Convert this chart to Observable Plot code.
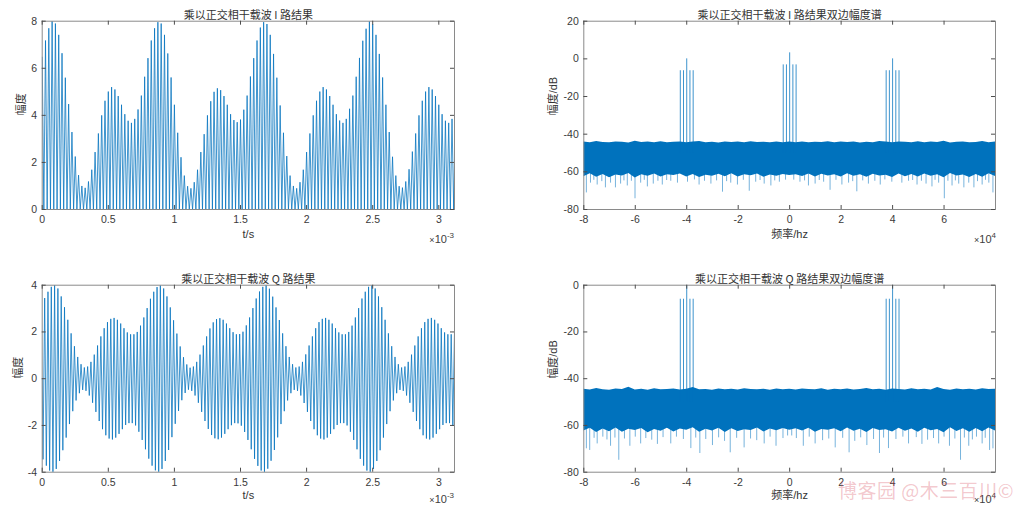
<!DOCTYPE html>
<html>
<head>
<meta charset="utf-8">
<script src="https://cdn.jsdelivr.net/npm/d3@7"></script>
<script src="https://cdn.jsdelivr.net/npm/@observablehq/plot@0.6"></script>
<style>
  html, body { margin: 0; padding: 0; background: #fff; }
  #wrap { position: relative; width: 1024px; height: 508px; overflow: hidden; background: #fff; }
  .panel { position: absolute; }
  .mult { position: absolute; width: 44px; text-align: right; font-family: "Liberation Sans", Arial, sans-serif; font-size: 11px; color: #404040; line-height: 12px; }
  .mult .x { font-size: 9px; }
  .mult sup { font-size: 8px; vertical-align: 5px; line-height: 0; }
  .wm { position: absolute; left: 838px; top: 476px; font-family: "Noto Sans CJK SC", sans-serif; font-size: 19px; color: rgba(214, 70, 86, 0.30); white-space: nowrap; letter-spacing: 0.5px; }
</style>
</head>
<body>
<div id="wrap"></div>
<script>
// ---------------- DATA ----------------
const fs = 160; // samples per millisecond (160 kHz)

// I branch: peak of every 25 µs spike (the valleys sit at 0)
const iPeaks = [
  6.47,7.18,7.7,8.0,7.9,7.42,6.64,5.6,4.48,3.29,
  2.25,1.46,1.0,0.92,1.19,1.69,2.44,3.23,4.0,4.62,
  5.01,5.2,5.1,4.82,4.45,4.05,3.77,3.68,3.85,4.25,
  4.84,5.64,6.43,7.18,7.7,7.96,7.9,7.42,6.63,5.61,
  4.45,3.26,2.22,1.44,0.99,0.9,1.16,1.69,2.44,3.2,
  4.0,4.6,5.0,5.15,5.07,4.82,4.45,4.05,3.8,3.71,
  3.82,4.24,4.84,5.65,6.43,7.18,7.73,7.96,7.88,7.42,
  6.61,5.6,4.42,3.26,2.27,1.44,1.0,0.9,1.16,1.69,
  2.44,3.23,4.0,4.62,5.01,5.2,5.1,4.82,4.45,4.05,
  3.78,3.68,3.85,4.28,4.84,5.64,6.44,7.17,7.68,7.99,
  7.88,7.42,6.61,5.61,4.45,3.29,2.24,1.44,0.99,0.93,
  1.19,1.71,2.46,3.23,4.0,4.62,5.01,5.2,5.1,4.82,
  4.45,4.05,3.77,3.68,3.85
];
const iEnd = 2.04; // last sample at the right edge

// Q branch: swing amplitude (±) of every 25 µs cycle
const qAmp = [
  3.45,3.72,3.93,4.0,3.86,3.52,3.06,2.52,1.94,1.39,0.93,0.62,0.48,0.52,0.72,1.03,
  1.42,1.81,2.16,2.42,2.56,2.6,2.52,2.36,2.16,1.98,1.9,1.9,2.0,2.27,2.62,3.02,
  3.42,3.72,3.92,3.99,3.86,3.52,3.05,2.5,1.93,1.38,0.92,0.61,0.47,0.52,0.72,1.03,
  1.42,1.81,2.15,2.41,2.55,2.59,2.52,2.36,2.16,1.99,1.9,1.91,2.01,2.28,2.62,3.02,
  3.43,3.73,3.93,4.0,3.85,3.51,3.05,2.51,1.94,1.39,0.93,0.62,0.48,0.52,0.72,1.04,
  1.42,1.81,2.16,2.42,2.56,2.6,2.52,2.36,2.16,1.98,1.9,1.9,2.0,2.27,2.62,3.02,
  3.43,3.72,3.93,4.0,3.86,3.52,3.06,2.52,1.94,1.39,0.93,0.62,0.48,0.52,0.72,1.03,
  1.42,1.81,2.16,2.42,2.56,2.6,2.52,2.36,2.16,1.98,1.9,1.9,2.02
];

// Spectra (frequency in kHz, level in dB)
const bandF = [
  -80,-77.5,-75,-72.5,-70,-67.5,-65,-62.5,-60,-57.5,-55,-52.5,-50,
  -47.5,-45,-42.5,-40,-37.5,-35,-32.5,-30,-27.5,-25,-22.5,-20,-17.5,
  -15,-12.5,-10,-7.5,-5,-2.5,0,2.5,5,7.5,10,12.5,15,
  17.5,20,22.5,25,27.5,30,32.5,35,37.5,40,42.5,45,47.5,
  50,52.5,55,57.5,60,62.5,65,67.5,70,72.5,75,77.5,80
];
const iBandTop = [
  -44.2,-44.5,-43.9,-44.4,-44.6,-44.1,-44.3,-44.7,-43.8,-44.4,-44.2,-44.6,-44.0,
  -44.5,-44.3,-44.1,-44.6,-44.2,-43.9,-44.5,-44.3,-44.7,-44.1,-44.4,-44.2,-44.6,
  -44.0,-44.4,-44.3,-44.5,-44.1,-44.6,-44.2,-44.6,-44.1,-44.5,-44.3,-44.4,-44.0,
  -44.6,-44.2,-44.4,-44.1,-44.7,-44.3,-44.5,-43.9,-44.2,-44.6,-44.1,-44.3,-44.5,
  -44.0,-44.6,-44.2,-44.4,-43.8,-44.7,-44.3,-44.1,-44.6,-44.4,-43.9,-44.5,-44.2
];
const iBandLow = [
  -62.6,-61.0,-62.9,-61.4,-63.1,-61.7,-62.2,-60.9,-63.3,-61.5,-62.4,-61.2,-62.8,
  -61.6,-62.0,-61.1,-62.7,-61.4,-63.0,-61.8,-62.3,-61.3,-62.6,-61.0,-62.8,-61.5,
  -62.1,-61.2,-62.9,-61.7,-62.4,-61.4,-62.0,-61.6,-62.5,-61.1,-62.8,-61.3,-62.2,
  -61.5,-62.7,-61.0,-62.4,-61.6,-62.9,-61.3,-62.2,-61.8,-63.0,-61.2,-62.6,-61.4,
  -62.8,-61.1,-62.3,-61.6,-63.2,-60.9,-62.2,-61.7,-63.0,-61.4,-62.9,-61.0,-62.5
];
const qBandTop = [
  -44.5,-44.8,-44.2,-44.7,-44.9,-44.4,-44.6,-43.7,-44.8,-44.5,-44.9,-44.3,-44.7,
  -44.6,-44.4,-44.8,-44.5,-43.8,-44.7,-44.6,-44.9,-44.4,-44.7,-44.5,-44.8,-44.3,
  -44.6,-44.7,-44.5,-44.9,-44.4,-44.7,-44.5,-44.8,-44.4,-44.6,-44.7,-44.3,-44.9,
  -44.5,-44.7,-44.4,-44.8,-44.6,-44.2,-44.7,-44.5,-44.9,-44.4,-44.6,-44.8,-44.3,
  -44.7,-44.5,-44.8,-43.8,-44.6,-44.9,-44.4,-44.7,-44.5,-44.8,-44.3,-44.6,-44.5
];
const qBandLow = [
  -62.4,-61.2,-63.0,-61.5,-62.7,-61.1,-62.9,-61.6,-62.2,-61.3,-63.1,-61.7,-62.5,
  -61.2,-62.8,-61.5,-62.1,-61.0,-62.9,-61.6,-62.4,-61.2,-63.0,-61.4,-62.6,-61.8,
  -62.2,-61.1,-62.8,-61.5,-62.3,-61.3,-62.0,-61.4,-62.4,-61.2,-62.9,-61.7,-62.1,
  -61.4,-62.7,-61.1,-62.5,-61.6,-63.0,-61.3,-62.2,-61.8,-62.8,-61.2,-62.5,-61.5,
  -62.9,-61.2,-62.3,-61.7,-63.1,-61.0,-62.6,-61.4,-62.9,-61.3,-62.7,-61.1,-62.4
];

// deeper downward noise strokes below the band
const iDipF = [
  -79.0,-77.4,-76.1,-74.8,-73.0,-71.6,-69.6,-67.7,-65.7,-64.4,-63.1,-61.5,-60.1,-57.9,
  -56.5,-55.3,-53.0,-51.2,-49.5,-47.8,-46.2,-43.6,-39.7,-37.0,-35.2,-33.1,-30.6,-28.4,
  -26.1,-24.5,-22.9,-20.3,-18.0,-15.7,-13.2,-11.5,-9.9,-7.3,-5.8,-4.0,-1.6,
  1.6,4.0,5.8,7.3,9.9,11.5,13.2,15.7,18.0,20.3,22.9,24.5,26.1,
  28.4,30.6,33.1,35.2,37.0,39.7,43.6,46.2,47.8,49.5,51.2,53.0,55.3,
  56.5,57.9,60.1,61.5,63.1,64.4,65.7,67.7,69.6,71.6,73.0,74.8,76.1,77.4,79.0
];
const iDipDb = [
  -71.2,-66.0,-64.5,-67.0,-65.2,-68.5,-66.0,-68.5,-66.5,-64.8,-67.5,-65.0,-74.3,-66.0,
  -64.5,-68.0,-66.5,-65.0,-67.0,-64.6,-65.0,-66.0,-65.5,-64.3,-67.0,-65.0,-66.5,-64.8,
  -70.8,-65.2,-66.0,-67.0,-64.5,-70.3,-65.5,-64.6,-66.5,-67.5,-64.8,-65.5,-64.4,
  -64.4,-65.5,-64.8,-67.5,-66.5,-64.6,-65.5,-69.8,-64.5,-67.0,-66.0,-65.2,-70.6,
  -64.8,-66.5,-65.0,-67.0,-64.3,-65.5,-66.0,-65.0,-64.6,-67.0,-65.0,-66.5,-68.0,
  -64.5,-66.0,-74.3,-65.0,-67.5,-64.8,-66.5,-68.5,-66.0,-68.5,-65.2,-67.0,-64.5,-66.0,-71.2
];
const qDipF = [
  -79.0,-77.7,-76.0,-74.8,-72.6,-71.0,-69.6,-67.9,-66.4,-64.2,-62.1,-60.0,-57.9,
  -55.9,-53.6,-51.4,-49.2,-46.2,-44.0,-41.3,-38.4,-36.5,-34.9,-32.6,-30.0,-27.6,
  -25.3,-23.1,-20.6,-17.7,-15.2,-12.8,-9.9,-7.6,-5.3,-2.6,-0.8,
  0.8,2.6,5.3,7.6,9.9,12.8,15.2,17.7,20.6,23.1,25.3,27.6,30.0,
  32.6,34.9,36.5,38.4,41.3,44.0,46.2,49.2,51.4,53.6,55.9,57.9,60.0,
  62.1,64.2,66.4,67.9,69.6,71.0,72.6,74.8,76.0,77.7,79.0
];
const qDipDb = [
  -70.0,-70.7,-65.5,-67.9,-65.0,-66.2,-68.9,-65.4,-74.9,-65.8,-68.9,-65.0,-67.9,
  -65.6,-66.3,-68.1,-65.2,-67.9,-65.0,-66.0,-69.9,-65.4,-72.0,-66.0,-68.6,-65.3,
  -66.8,-71.7,-65.5,-69.6,-65.8,-66.5,-67.9,-65.0,-68.9,-65.6,-64.5,
  -64.5,-65.6,-68.9,-65.0,-67.9,-66.5,-65.8,-69.6,-65.5,-71.7,-66.8,-65.3,-68.6,
  -66.0,-72.0,-65.4,-69.9,-66.0,-65.0,-67.9,-65.2,-68.1,-66.3,-65.6,-67.9,-65.0,
  -68.9,-65.8,-74.9,-65.4,-68.9,-66.2,-65.0,-67.9,-65.5,-70.7,-70.0
];

// discrete spectral lines
const iSigF  = [-42.5,-41.25,-40,-38.75,-37.5,-2.5,-1.25,0,1.25,2.5,37.5,38.75,40,41.25,42.5];
const iSigDb = [-6.3,-6.3,0,-6.3,-6.3,-3.2,-3.2,3.2,-3.2,-3.2,-6.3,-6.3,0,-6.3,-6.3];
const qSigF  = [-42.5,-41.25,-40,-38.75,-37.5,37.5,38.75,40,41.25,42.5];
const qSigDb = [-6.0,-6.0,0,-6.0,-6.0,-6.0,-6.0,0,-6.0,-6.0];

// tick values
const tTicks = [0, 0.5, 1, 1.5, 2, 2.5, 3];           // ms  (×10^-3 s)
const fTicks = [-80, -60, -40, -20, 0, 20, 40, 60];   // kHz (×10^4 Hz)
const iYTicks = [0, 2, 4, 6, 8];
const qYTicks = [-4, -2, 0, 2, 4];
const iSpecTicks = [-80, -60, -40, -20, 0, 20];
const qSpecTicks = [-80, -60, -40, -20, 0];

const titles = ["乘以正交相干载波 I 路结果", "乘以正交相干载波 I 路结果双边幅度谱",
                "乘以正交相干载波 Q 路结果", "乘以正交相干载波 Q 路结果双边幅度谱"];

// ---------------- TABLES ----------------
const iLine = [];
iPeaks.forEach((v, k) => { iLine.push({t: 4 * k / fs, v}); iLine.push({t: (4 * k + 2) / fs, v: 0}); });
iLine.push({t: 499 / fs, v: iEnd});
const qLine = [{t: 0, v: 0}];
qAmp.forEach((a, k) => { qLine.push({t: (4 * k + 1) / fs, v: -a}); qLine.push({t: (4 * k + 3) / fs, v: a}); });

const band = (tops, lows) => bandF.map((f, i) => ({f, hi: tops[i], lo: lows[i]}));
const pairs = (fs_, ds) => fs_.map((f, i) => ({f, db: ds[i]}));

// ---------------- DRAW ----------------
const BLUE = "#0072BD";
const hy = s => String(s).replace("\u2212", "-");
const fmtT = d => hy(+d.toFixed(2));
const fmtF = d => hy(d / 10);
const fmtN = d => hy(d);

const wrap = document.getElementById("wrap");

function panel(o) {
  const W = 512, H = 254;
  const pw = W - o.m[3] - o.m[1], ph = H - o.m[0] - o.m[2];
  const TK = 4;
  const chart = Plot.plot({
    width: W, height: H,
    marginTop: o.m[0], marginRight: o.m[1], marginBottom: o.m[2], marginLeft: o.m[3],
    style: {fontFamily: "'Liberation Sans', Arial, sans-serif", fontSize: "10px", background: "transparent", overflow: "visible"},
    x: {domain: o.xd, axis: null},
    y: {domain: o.yd, axis: null},
    marks: [
      ...o.marks,
      Plot.frame({stroke: "#8a8a8a", strokeWidth: 1}),
      Plot.tickX(o.xt, {x: d => d, insetTop: ph - TK, stroke: "#4d4d4d"}),
      Plot.tickX(o.xt, {x: d => d, insetBottom: ph - TK, stroke: "#4d4d4d"}),
      Plot.tickY(o.yt, {y: d => d, insetRight: pw - TK, stroke: "#4d4d4d"}),
      Plot.tickY(o.yt, {y: d => d, insetLeft: pw - TK, stroke: "#4d4d4d"}),
      Plot.axisX({ticks: o.xt, tickSize: 0, tickPadding: 6, tickFormat: o.xf, label: null, fill: "#3a3a3a", fontSize: 10.5}),
      Plot.axisY({ticks: o.yt, tickSize: 0, tickPadding: 5, tickFormat: o.yf, label: null, fill: "#3a3a3a", fontSize: 10.5}),
      Plot.text([o.title], {frameAnchor: "top", dy: o.titleDy, fontSize: 11, fill: "#333",
        fontFamily: "'Noto Sans CJK SC', sans-serif"}),
      Plot.text([o.xl], {frameAnchor: "bottom", dy: o.xlDy, fontSize: 11, fill: "#333",
        fontFamily: "'Liberation Sans', 'Noto Sans CJK SC', sans-serif"}),
      Plot.text([o.yl], {frameAnchor: "left", dx: o.ylDx, rotate: -90, fontSize: 11, fill: "#333",
        fontFamily: "'Liberation Sans', 'Noto Sans CJK SC', sans-serif"})
    ]
  });
  chart.classList.add("panel");
  chart.style.left = o.left + "px";
  chart.style.top = o.top + "px";
  wrap.appendChild(chart);
}

function specMarks(tops, lows, dipF, dipDb, sigF, sigDb) {
  return [
    Plot.ruleX(pairs(dipF, dipDb), {x: "f", y1: -60, y2: "db", stroke: BLUE, strokeOpacity: 0.6, strokeWidth: 0.9, clip: true}),
    Plot.areaY(band(tops, lows), {x: "f", y1: "lo", y2: "hi", fill: BLUE, clip: true}),
    Plot.ruleX(pairs(sigF, sigDb), {x: "f", y1: -50, y2: "db", stroke: BLUE, strokeOpacity: 0.85, strokeWidth: 0.9, clip: true})
  ];
}

const tDom = [0, 499 / fs];
const fDom = [-80, 79.99];

panel({left: 0, top: 0, m: [20.7, 58, 45, 41.7], xd: tDom, yd: [0, 8], xt: tTicks, yt: iYTicks, xf: fmtT, yf: fmtN,
  title: titles[0], titleDy: -10, xl: "t/s", xlDy: 28, yl: "幅度", ylDx: -21,
  marks: [Plot.line(iLine, {x: "t", y: "v", stroke: BLUE, strokeWidth: 0.75, clip: true})]});

panel({left: 512, top: 0, m: [20.7, 29, 45, 71.3], xd: fDom, yd: [-80, 20], xt: fTicks, yt: iSpecTicks, xf: fmtF, yf: fmtN,
  title: titles[1], titleDy: -10, xl: "频率/hz", xlDy: 28, yl: "幅度/dB", ylDx: -30,
  marks: specMarks(iBandTop, iBandLow, iDipF, iDipDb, iSigF, iSigDb)});

panel({left: 0, top: 254, m: [30.7, 58, 36.3, 41.7], xd: tDom, yd: [-4, 4], xt: tTicks, yt: qYTicks, xf: fmtT, yf: fmtN,
  title: titles[2], titleDy: -10.5, xl: "t/s", xlDy: 26.5, yl: "幅度", ylDx: -24,
  marks: [Plot.line(qLine, {x: "t", y: "v", stroke: BLUE, strokeWidth: 0.75, clip: true})]});

panel({left: 512, top: 254, m: [30.7, 29, 36.3, 71.3], xd: fDom, yd: [-80, 0], xt: fTicks, yt: qSpecTicks, xf: fmtF, yf: fmtN,
  title: titles[3], titleDy: -10.5, xl: "频率/hz", xlDy: 26.5, yl: "幅度/dB", ylDx: -30,
  marks: specMarks(qBandTop, qBandLow, qDipF, qDipDb, qSigF, qSigDb)});

// exponent multipliers
function mult(left, top, exp) {
  const d = document.createElement("div");
  d.className = "mult";
  d.style.left = left + "px";
  d.style.top = top + "px";
  d.innerHTML = '<span class="x">×</span>10<sup>' + exp + '</sup>';
  wrap.appendChild(d);
}
mult(410, 233, "-3");
mult(952, 233, "4");
mult(410, 493, "-3");
mult(952, 493, "4");

const wm = document.createElement("div");
wm.className = "wm";
wm.textContent = "博客园 @木三百川©";
wrap.appendChild(wm);
</script>
</body>
</html>
